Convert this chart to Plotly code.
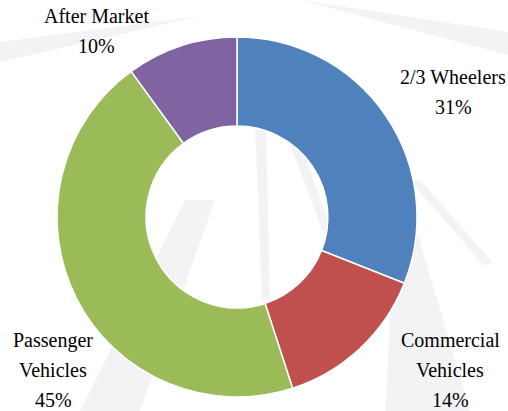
import plotly.graph_objects as go

segments = ['2/3 Wheelers', 'Commercial Vehicles', 'Passenger Vehicles', 'After Market']
shares = [31, 14, 45, 10]
label_lines = [['2/3 Wheelers', '31%'],
               ['Commercial', 'Vehicles', '14%'],
               ['Passenger', 'Vehicles', '45%'],
               ['After Market', '10%']]
colors = ['#4F81BD', '#C0504D', '#9BBB59', '#8064A2']

W, H = 508, 411


def px(x, y):
    # pixel -> paper coords
    return x / W, 1 - y / H


fig = go.Figure(go.Pie(
    labels=segments,
    values=shares,
    hole=0.505,
    sort=False,
    direction='clockwise',
    rotation=0,
    marker=dict(colors=colors, line=dict(color='white', width=1.5)),
    textinfo='none',
    hoverinfo='label+percent',
    domain=dict(x=[57 / W, 417 / W], y=[1 - 397 / H, 1 - 37 / H]),
))

# faint watermark rays in the background
rays = [
    [(0, 42), (0, 62), (200, 16)],
    [(300, 0), (508, 32), (508, 55)],
    [(255, 125), (266, 125), (270, 300), (262, 300)],
    [(285, 130), (296, 130), (335, 240), (326, 240)],
    [(185, 200), (215, 200), (140, 411), (80, 411)],
    [(395, 235), (418, 235), (470, 411), (385, 411)],
    [(410, 180), (420, 180), (492, 262), (484, 266)],
]
shapes = []
for r in rays:
    pts = [px(x, y) for x, y in r]
    path = 'M ' + ' L '.join(f'{a:.4f},{b:.4f}' for a, b in pts) + ' Z'
    shapes.append(dict(type='path', path=path, xref='paper', yref='paper',
                       fillcolor='#F3F3F5', line=dict(width=0), layer='below'))

label_pos = [(453, 77), (450, 340), (53, 340), (96, 16)]
annotations = []
for (x0, y0), lines in zip(label_pos, label_lines):
    for i, t in enumerate(lines):
        x, y = px(x0, y0 + i * 30)
        annotations.append(dict(
            text=t, x=x, y=y, xref='paper', yref='paper', showarrow=False,
            xanchor='center', yanchor='middle',
            font=dict(family='Liberation Serif', size=20, color='#000000')))

fig.update_layout(
    width=W, height=H,
    margin=dict(l=0, r=0, t=0, b=0),
    paper_bgcolor='white',
    plot_bgcolor='white',
    showlegend=False,
    shapes=shapes,
    annotations=annotations,
)

fig.write_html('out.html', config={'displayModeBar': False},
               post_script="document.body.style.margin='0';")
